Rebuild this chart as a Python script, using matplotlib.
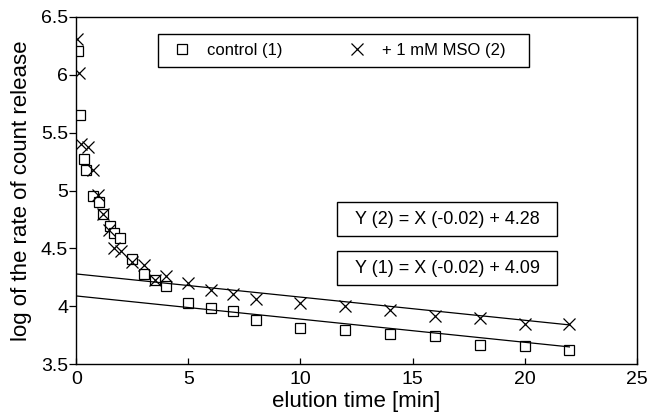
import matplotlib
matplotlib.use("Agg")
import matplotlib.pyplot as plt
from matplotlib.patches import Rectangle
import numpy as np

plt.rcParams['font.family'] = ['Liberation Sans', 'DejaVu Sans']

# control (1): open squares
ctrl_t = [0.08, 0.16, 0.33, 0.45, 0.75, 1.0, 1.2, 1.5, 1.7, 1.95, 2.5, 3.0, 3.5,
          4, 5, 6, 7, 8, 10, 12, 14, 16, 18, 20, 22]
ctrl_y = [6.21, 5.65, 5.27, 5.18, 4.95, 4.90, 4.80, 4.69, 4.63, 4.59, 4.41, 4.28, 4.23,
          4.18, 4.03, 3.99, 3.96, 3.88, 3.81, 3.80, 3.76, 3.74, 3.67, 3.66, 3.62]

# + 1 mM MSO (2): crosses
mso_t = [0.04, 0.12, 0.19, 0.53, 0.75, 0.97, 1.2, 1.45, 1.7, 2.0, 2.5, 3.0, 3.5,
         4, 5, 6, 7, 8, 10, 12, 14, 16, 18, 20, 22]
mso_y = [6.31, 6.02, 5.40, 5.38, 5.18, 4.96, 4.80, 4.66, 4.50, 4.48, 4.38, 4.36, 4.23,
         4.26, 4.20, 4.14, 4.11, 4.06, 4.03, 4.00, 3.97, 3.92, 3.90, 3.85, 3.85]

# linear fits of the slow phase
fit_slope = [-0.02, -0.02]
fit_icept = [4.09, 4.28]
fit_range = [0, 22]

series_labels = ['control (1)', '+ 1 mM MSO (2)']
eq_labels = ['Y (1) = X (-0.02) + 4.09', 'Y (2) = X (-0.02) + 4.28']

fig = plt.figure(figsize=(6.47, 4.13), dpi=100)
ax = fig.add_axes([0.118, 0.118, 0.866, 0.841])

ax.plot(ctrl_t, ctrl_y, linestyle='none', marker='s', markersize=7,
        markerfacecolor='white', markeredgecolor='black', markeredgewidth=0.9,
        label=series_labels[0])
ax.plot(mso_t, mso_y, linestyle='none', marker='x', markersize=8,
        color='black', markeredgewidth=0.9, label=series_labels[1])

xf = np.array(fit_range, dtype=float)
for m, b in zip(fit_slope, fit_icept):
    ax.plot(xf, m * xf + b, color='black', linewidth=0.9)

ax.set_xlim(0, 25)
ax.set_ylim(3.5, 6.5)
ax.set_xticks([0, 5, 10, 15, 20, 25])
ax.set_yticks([3.5, 4, 4.5, 5, 5.5, 6, 6.5])
ax.set_yticklabels(['3.5', '4', '4.5', '5', '5.5', '6', '6.5'])
ax.tick_params(axis='x', direction='in', length=4, width=0.9, labelsize=14, pad=5)
ax.tick_params(axis='y', direction='out', length=5, width=0.9, labelsize=14, pad=1)
for s in ax.spines.values():
    s.set_linewidth(1.0)

ax.set_xlabel('elution time [min]', fontsize=16, labelpad=2)
ax.set_ylabel('log of the rate of count release', fontsize=16, labelpad=6)

# legend entries in one row, with a separately drawn rectangular frame
leg = ax.legend(loc='center left', bbox_to_anchor=(0.1736, 0.9035),
                ncol=2, fontsize=12, frameon=False,
                handletextpad=1.0, borderaxespad=0, handlelength=1.0,
                columnspacing=4.0, borderpad=0)
ax.add_patch(Rectangle((0.146, 0.856), 0.662, 0.095, transform=ax.transAxes,
                       fill=False, edgecolor='black', linewidth=1.0))

# equation boxes
box_w, box_h = 0.393, 0.098
for label, (cx, cy) in zip(eq_labels, [(0.6616, 0.277), (0.6616, 0.418)]):
    ax.add_patch(Rectangle((cx - box_w / 2, cy - box_h / 2), box_w, box_h,
                           transform=ax.transAxes, fill=False,
                           edgecolor='black', linewidth=1.0))
    ax.text(cx, cy, label, transform=ax.transAxes, ha='center', va='center',
            fontsize=13)

fig.savefig('out.png', dpi=100)
